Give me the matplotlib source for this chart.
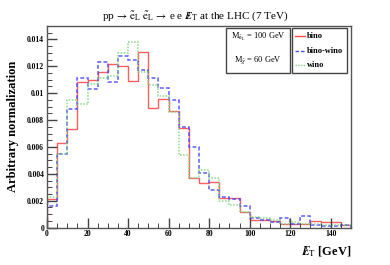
import numpy as np
import matplotlib.pyplot as plt
from matplotlib.ticker import MultipleLocator, FuncFormatter
from matplotlib.patches import Rectangle
from matplotlib.lines import Line2D

plt.rcParams['font.family'] = ['Liberation Serif', 'DejaVu Serif']
plt.rcParams['mathtext.fontset'] = 'stix'

# missing E_T bins of 5 GeV, 0 - 150 GeV
edges = np.arange(0, 155, 5)
bino = [0.0021, 0.0063, 0.0073, 0.0108, 0.0110, 0.0116, 0.0122, 0.0120, 0.0109, 0.0131,
        0.0089, 0.0096, 0.0087, 0.0074, 0.0037, 0.0033, 0.0034, 0.0022, 0.0022, 0.0012,
        0.0006, 0.0006, 0.0005, 0.0003, 0.0003, 0.0003, 0.0005, 0.0004, 0.0004, 0.0002]
bino_wino = [0.0016, 0.0055, 0.0088, 0.0111, 0.0103, 0.0123, 0.0108, 0.0128, 0.0125, 0.0117,
             0.0111, 0.0104, 0.0095, 0.0075, 0.0060, 0.0041, 0.0028, 0.0023, 0.0021, 0.0016,
             0.0007, 0.0006, 0.0004, 0.0007, 0.0003, 0.0009, 0.0002, 0.0001, 0.0001, 0.0002]
wino = [0.0023, 0.0055, 0.0095, 0.0092, 0.0107, 0.0111, 0.0113, 0.0130, 0.0138, 0.0116,
        0.0106, 0.0098, 0.0086, 0.0054, 0.0037, 0.0043, 0.0037, 0.0020, 0.0017, 0.0012,
        0.0008, 0.0007, 0.0006, 0.0003, 0.0004, 0.0003, 0.0003, 0.0002, 0.0002, 0.0002]

met = r'$/\!\!\!\!E_{\mathrm{T}}$'

fig = plt.figure(figsize=(3.9, 2.65), dpi=100)
ax = fig.add_axes([0.1205, 0.141, 0.7795, 0.761])

ax.stairs(bino, edges, color='#ff4a4a', lw=1.0, alpha=0.9)
ax.stairs(bino_wino, edges, color='#4a4aff', lw=1.1, ls=(0, (2.5, 1.5)), alpha=0.9)
ax.stairs(wino, edges, color='#7ed67e', lw=1.1, ls=(0, (1, 1)), alpha=0.9)

ax.set_xlim(0, 150)
ax.set_ylim(0, 0.015)
ax.xaxis.set_major_locator(MultipleLocator(20))
ax.xaxis.set_minor_locator(MultipleLocator(5))
ax.yaxis.set_major_locator(MultipleLocator(0.002))
ax.yaxis.set_minor_locator(MultipleLocator(0.0005))
ax.yaxis.set_major_formatter(FuncFormatter(lambda v, p: '0' if v == 0 else ('%g' % round(v, 4))))
ax.tick_params(which='both', direction='in', top=False, right=False, color='#444444')
ax.tick_params(which='major', length=7, width=1.0, labelsize=5.5, pad=2)
ax.tick_params(which='minor', length=3.5, width=0.7)
for lab in ax.get_xticklabels() + ax.get_yticklabels():
    lab.set_fontweight('bold')
for s in ax.spines.values():
    s.set_color('#555555')
    s.set_linewidth(1.0)

ax.set_ylabel('Arbitrary normalization', fontsize=9, fontweight='bold', labelpad=6)
ax.set_xlabel(met + ' [GeV]', fontsize=9, fontweight='bold', loc='right', labelpad=4)
fig.text(0.5, 0.94, r'pp$\,\rightarrow\,\tilde{\mathrm{e}}_{\mathrm{L}}$ $\tilde{\mathrm{e}}_{\mathrm{L}}\,\rightarrow\,$e e $\;/\!\!\!\!E_{\mathrm{T}}$ at the LHC (7 TeV)',
         ha='center', va='center', fontsize=8)

# mass box
fig.patches.append(Rectangle((226 / 390, 1 - 72.7 / 265), 64 / 390, 44.4 / 265,
                             transform=fig.transFigure, fill=False, ec='#444444', lw=1.0))
fig.text(258 / 390, 1 - 37 / 265, r'M$_{\tilde{\mathrm{e}}_{\mathrm{L}}}$ = 100 GeV', ha='center', va='center', fontsize=6)
fig.text(258 / 390, 1 - 60 / 265, r'M$_{\tilde{\chi}}$ = 60 GeV', ha='center', va='center', fontsize=6)

# legend
fig.patches.append(Rectangle((292.3 / 390, 1 - 72.7 / 265), 55 / 390, 44.4 / 265,
                             transform=fig.transFigure, fill=False, ec='#444444', lw=1.0))
names = ['bino', 'bino-wino', 'wino']
styles = [('#ff4a4a', '-'), ('#4a4aff', (0, (2.5, 1.5))), ('#7ed67e', (0, (1, 1)))]
for i, (name, (c, ls)) in enumerate(zip(names, styles)):
    y = 1 - (36 + 14.5 * i) / 265
    fig.lines.append(Line2D([295 / 390, 305 / 390], [y, y], transform=fig.transFigure,
                            color=c, ls=ls, lw=1.0))
    fig.text(307 / 390, y, name, ha='left', va='center', fontsize=6, fontweight='bold')

fig.savefig('out.png', dpi=100)
